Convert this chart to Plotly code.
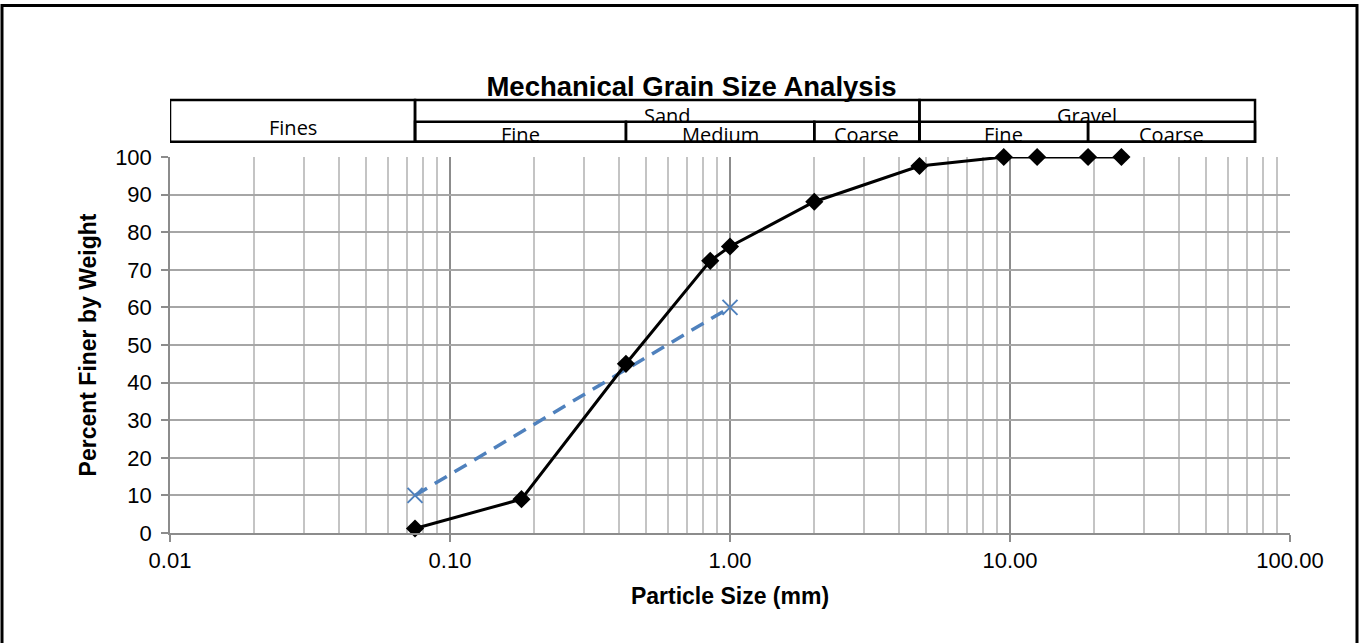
import math
import plotly.graph_objects as go

# Sieve analysis results
sieve_mm = [0.075, 0.18, 0.425, 0.85, 1.0, 2.0, 4.75, 9.5, 12.5, 19.0, 25.0]
percent_finer = [1.2, 9.0, 45.0, 72.4, 76.2, 88.1, 97.6, 100, 100, 100, 100]

# Straight reference line
ref_mm = [0.075, 1.0]
ref_pct = [10, 60]

x_tick_vals = [0.01, 0.1, 1, 10, 100]
x_tick_text = ["0.01", "0.10", "1.00", "10.00", "100.00"]

# Soil classification bands (mm)
main_bands = [("Fines", 0.01, 0.075), ("Sand", 0.075, 4.75), ("Gravel", 4.75, 75.0)]
sub_bands = [("Fine", 0.075, 0.425), ("Medium", 0.425, 2.0), ("Coarse", 2.0, 4.75),
             ("Fine", 4.75, 19.0), ("Coarse", 19.0, 75.0)]

W, H = 1360, 643
ML, MR, MT, MB = 170, 70, 157, 110
plot_h = H - MT - MB


def py(px):
    """pixel row -> paper y"""
    return (H - MB - px) / plot_h


def pxx(px):
    """pixel column -> paper x"""
    return (px - ML) / (W - ML - MR)


AX_FONT = dict(family="Liberation Sans, Arial", size=22, color="#000000")
TB_FONT = dict(family="Open Sans", size=20, color="#000000")
TITLE_FONT = dict(family="Liberation Sans, Arial", size=23, color="black")

fig = go.Figure()

fig.add_trace(go.Scatter(
    x=ref_mm, y=ref_pct, mode="lines+markers",
    line=dict(color="#4F81BD", width=3.5, dash="14px,9px"),
    marker=dict(symbol="x-thin", size=15, line=dict(color="#4F81BD", width=2)),
    showlegend=False, cliponaxis=False,
))
fig.add_trace(go.Scatter(
    x=sieve_mm, y=percent_finer, mode="lines+markers",
    line=dict(color="#000000", width=3),
    marker=dict(symbol="diamond", size=14, color="#000000"),
    showlegend=False, cliponaxis=False,
))

shapes = []
t_top, t_mid, t_bot = py(100), py(121.7), py(141.7)
lw = 2.5
# table frame and dividers
for name, lo, hi in main_bands:
    shapes.append(dict(type="rect", xref="x", yref="paper", x0=lo, x1=hi,
                       y0=t_bot, y1=t_top, line=dict(color="black", width=lw)))
for name, lo, hi in sub_bands:
    shapes.append(dict(type="rect", xref="x", yref="paper", x0=lo, x1=hi,
                       y0=t_bot, y1=t_mid, line=dict(color="black", width=lw)))
# outer frame of the chart
shapes.append(dict(type="rect", xref="paper", yref="paper",
                   x0=pxx(2), x1=pxx(1357), y0=py(660), y1=py(5.5),
                   line=dict(color="black", width=3)))

annotations = []
for name, lo, hi in main_bands:
    cx = (math.log10(lo) + math.log10(hi)) / 2
    if name == "Fines":
        yy = py(127)
    else:
        yy = py(115)
    annotations.append(dict(text=name, xref="x", yref="paper", x=cx, y=yy,
                            showarrow=False, font=TB_FONT, yanchor="middle"))
for name, lo, hi in sub_bands:
    cx = (math.log10(lo) + math.log10(hi)) / 2
    annotations.append(dict(text=name, xref="x", yref="paper", x=cx, y=py(134.5),
                            showarrow=False, font=TB_FONT, yanchor="middle"))

fig.update_layout(
    width=W, height=H,
    margin=dict(l=ML, r=MR, t=MT, b=MB, autoexpand=False),
    paper_bgcolor="white", plot_bgcolor="white",
    title=dict(text="<b>Mechanical Grain Size Analysis</b>", xref="paper",
               x=pxx(691.5), xanchor="center", yref="container", y=1 - 86.5 / H,
               yanchor="middle",
               font=dict(family="Liberation Sans, Arial", size=27.5, color="black")),
    shapes=shapes, annotations=annotations,
    xaxis=dict(
        type="log", range=[-2, 2], tickvals=x_tick_vals, ticktext=x_tick_text,
        showgrid=True, gridcolor="#8c8c8c", gridwidth=1.5,
        minor=dict(dtick="D1", showgrid=True, gridcolor="#c4c4c4", gridwidth=1.5, ticks=""),
        ticks="outside", ticklen=7, tickcolor="#8c8c8c", tickwidth=1.5,
        showline=True, linecolor="#8c8c8c", linewidth=1.5,
        tickfont=AX_FONT, zeroline=False,
        title=dict(text="<b>Particle Size (mm)</b>", standoff=16, font=TITLE_FONT),
    ),
    yaxis=dict(
        range=[0, 100], dtick=10, showgrid=True, gridcolor="#a6a6a6", gridwidth=1.5,
        ticks="outside", ticklen=7, tickcolor="#8c8c8c", tickwidth=1.5,
        showline=True, linecolor="#8c8c8c", linewidth=1.5,
        tickfont=AX_FONT, zeroline=False, ticklabelstandoff=5,
        title=dict(text="<b>Percent Finer by Weight</b>", standoff=12, font=TITLE_FONT),
    ),
)

fig.write_html("out.html")
